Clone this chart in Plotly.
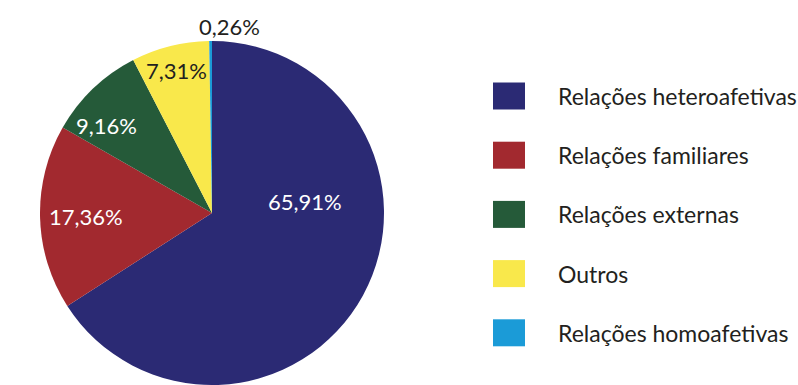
import plotly.graph_objects as go

labels = ["Relações heteroafetivas", "Relações familiares", "Relações externas",
          "Outros", "Relações homoafetivas"]
values = [65.91, 17.36, 9.16, 7.31, 0.26]
text_labels = ["65,91%", "17,36%", "9,16%", "7,31%", "0,26%"]
colors = ["#2b2a74", "#a2292f", "#255a39", "#f9e84b", "#1b9bd7"]
text_colors = ["#ffffff", "#ffffff", "#ffffff", "#231f20", "#231f20"]

FONT = "Lato, Open Sans, sans-serif"
W, H = 798, 385

# pixel anchors (layout only) for the percentage labels
label_px = [(305, 202), (86, 216), (106, 125), (176, 71), (229, 26)]

fig = go.Figure()
fig.add_trace(go.Pie(
    labels=labels,
    values=values,
    text=text_labels,
    textinfo="none",
    marker=dict(colors=colors, line=dict(width=0)),
    sort=False,
    direction="clockwise",
    rotation=0,
    showlegend=False,
    hoverinfo="label+text",
    domain=dict(x=[40 / W, 384 / W], y=[0, 344 / H]),
))

for (px, py), txt, tc in zip(label_px, text_labels, text_colors):
    fig.add_annotation(xref="paper", yref="paper", x=px / W, y=1 - py / H,
                       xanchor="center", yanchor="middle", showarrow=False,
                       text=txt, font=dict(family=FONT, size=22, color=tc))

# custom legend with large square swatches
row0, step = 96, 59.2
for i, (lab, col) in enumerate(zip(labels, colors)):
    yc = row0 + step * i
    fig.add_shape(type="rect", xref="paper", yref="paper",
                  x0=493 / W, x1=525 / W,
                  y0=1 - (yc - 13.5) / H, y1=1 - (yc + 13.5) / H,
                  fillcolor=col, line=dict(width=0))
    fig.add_annotation(xref="paper", yref="paper", x=556 / W, y=1 - yc / H,
                       xanchor="left", yanchor="middle", showarrow=False,
                       text=lab, font=dict(family=FONT, size=23, color="#231f20"))

fig.update_layout(
    width=W, height=H,
    margin=dict(l=0, r=0, t=0, b=0),
    paper_bgcolor="white",
    plot_bgcolor="white",
)

fig.write_html(
    "out.html",
    config={"displayModeBar": False},
    post_script="document.body.style.margin='0px';document.body.style.overflow='hidden';",
)
